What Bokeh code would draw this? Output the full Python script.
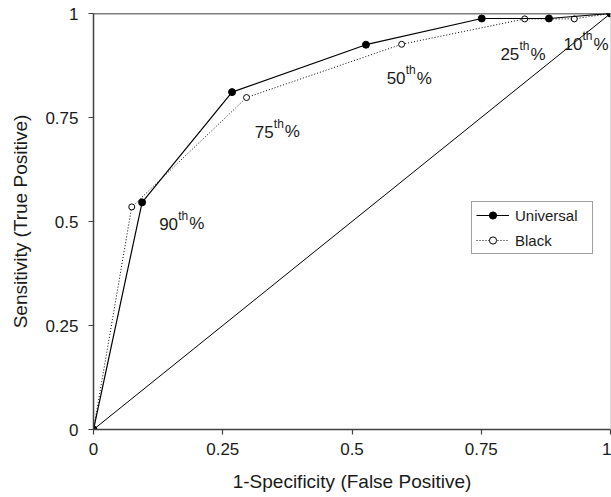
from bokeh.plotting import figure
from bokeh.models import Range1d, FixedTicker, Span, Legend, LegendItem, NumeralTickFormatter
from bokeh.core.properties import value
from bokeh.embed import file_html
from bokeh.resources import INLINE

# ---- data ----
univ_fpr = [0.0, 0.094, 0.268, 0.527, 0.751, 0.881, 1.0]
univ_tpr = [0.0, 0.546, 0.811, 0.925, 0.988, 0.988, 1.0]
black_fpr = [0.0, 0.074, 0.296, 0.596, 0.834, 0.930, 1.0]
black_tpr = [0.0, 0.535, 0.798, 0.926, 0.987, 0.987, 1.0]
diag_x = [0.0, 1.0]
diag_y = [0.0, 1.0]
ticks = [0, 0.25, 0.5, 0.75, 1]
pct_labels = ["90", "75", "50", "25", "10"]
label_x = [0.127, 0.312, 0.567, 0.787, 0.909]
label_y = [0.494, 0.716, 0.844, 0.902, 0.926]

FONT = "Liberation Sans"
AX = "#404040"

p = figure(width=611, height=497, output_backend="svg", toolbar_location=None,
           x_range=Range1d(0, 1), y_range=Range1d(0, 1),
           min_border_left=93, min_border_right=1, min_border_top=13, min_border_bottom=68)
p.outline_line_color = None
p.xgrid.grid_line_color = None
p.ygrid.grid_line_color = None
p.background_fill_color = "white"
p.border_fill_color = "white"

for ax in (p.xaxis[0], p.yaxis[0]):
    ax.ticker = FixedTicker(ticks=ticks)
    ax.formatter = NumeralTickFormatter(format="0.[00]")
    ax.minor_tick_line_color = None
    ax.major_tick_in = 0
    ax.major_tick_out = 5
    ax.major_tick_line_color = AX
    ax.major_tick_line_width = 1.2
    ax.axis_line_color = AX
    ax.axis_line_width = 1.5
    ax.major_label_text_font = FONT
    ax.major_label_text_font_size = "17px"
    ax.major_label_text_color = "#1a1a1a"
    ax.axis_label_text_font = FONT
    ax.axis_label_text_font_size = "19px"
    ax.axis_label_text_font_style = "normal"
    ax.axis_label_text_color = "#1a1a1a"

p.xaxis.axis_label = "1-Specificity (False Positive)"
p.yaxis.axis_label = "Sensitivity (True Positive)"
p.xaxis.major_label_standoff = 8
p.yaxis.major_label_standoff = 10
p.xaxis.axis_label_standoff = 13
p.yaxis.axis_label_standoff = 11

# frame borders
p.add_layout(Span(location=1, dimension="width", line_color="black", line_width=1.5))
p.add_layout(Span(location=1, dimension="height", line_color="#bbbbbb", line_width=1))

# diagonal
p.line(diag_x, diag_y, line_color="black", line_width=1)

# Black (dotted, open)
l2 = p.line(black_fpr, black_tpr, line_color="black", line_width=1, line_dash="1 2")
s2 = p.scatter(black_fpr, black_tpr, marker="circle", size=6, fill_color="white",
               line_color="black", line_width=1)

# Universal (solid, filled)
l1 = p.line(univ_fpr, univ_tpr, line_color="black", line_width=1.2)
s1 = p.scatter(univ_fpr, univ_tpr, marker="circle", size=7, fill_color="black",
               line_color="black")

# percentile labels with superscript
p.text(x=label_x, y=label_y, text=pct_labels, text_font=value(FONT), text_font_size="17px",
       text_baseline="alphabetic", text_align="left", text_color="#1a1a1a")
p.text(x=label_x, y=label_y, text=["th"] * len(pct_labels), text_font=value(FONT),
       text_font_size="12px", text_baseline="alphabetic", text_align="left",
       x_offset=19, y_offset=-8, text_color="#1a1a1a")
p.text(x=label_x, y=label_y, text=["%"] * len(pct_labels), text_font=value(FONT),
       text_font_size="17px", text_baseline="alphabetic", text_align="left",
       x_offset=30, text_color="#1a1a1a")

legend = Legend(items=[LegendItem(label="Universal", renderers=[l1, s1]),
                       LegendItem(label="Black", renderers=[l2, s2])],
                location=(378, 175))
legend.border_line_color = AX
legend.border_line_width = 1
legend.background_fill_color = "white"
legend.background_fill_alpha = 1
legend.label_text_font = FONT
legend.label_text_font_size = "15px"
legend.label_text_color = "#1a1a1a"
legend.glyph_width = 33
legend.glyph_height = 18
legend.label_height = 18
legend.label_width = 73
legend.label_standoff = 6
legend.spacing = 7
legend.padding = 4
legend.margin = 0
p.add_layout(legend)

open("out.html", "w").write(file_html(p, INLINE))
